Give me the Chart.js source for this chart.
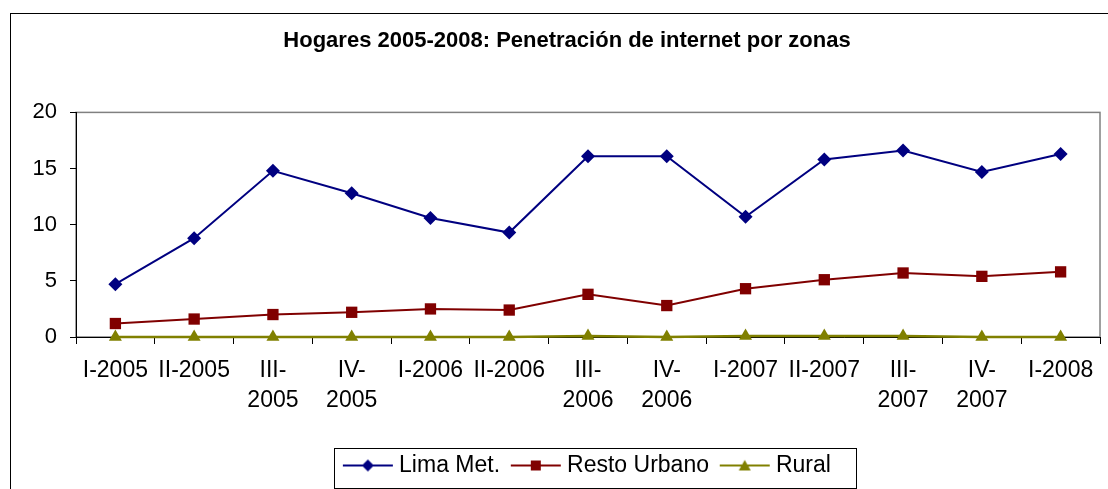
<!DOCTYPE html>
<html>
<head>
<meta charset="utf-8">
<script src="https://cdn.jsdelivr.net/npm/chart.js@4.4.1/dist/chart.umd.min.js"></script>
<style>
  html, body { margin: 0; padding: 0; background: #ffffff; }
  #wrap { width: 1108px; height: 489px; position: relative; }
</style>
</head>
<body>
<div id="wrap"><canvas id="c"></canvas></div>
<script>
const titleText = 'Hogares 2005-2008: Penetración de internet por zonas';
const categories = ['I-2005', 'II-2005', ['III-', '2005'], ['IV-', '2005'], 'I-2006', 'II-2006',
  ['III-', '2006'], ['IV-', '2006'], 'I-2007', 'II-2007', ['III-', '2007'], ['IV-', '2007'], 'I-2008'];
const seriesNames = ['Lima Met.', 'Resto Urbano', 'Rural'];
const limaMet = [4.7, 8.8, 14.8, 12.8, 10.6, 9.3, 16.1, 16.1, 10.7, 15.8, 16.6, 14.7, 16.3];
const restoUrbano = [1.2, 1.6, 2.0, 2.2, 2.5, 2.4, 3.8, 2.8, 4.3, 5.1, 5.7, 5.4, 5.8];
const rural = [0.0, 0.0, 0.0, 0.0, 0.0, 0.0, 0.1, 0.0, 0.1, 0.1, 0.1, 0.0, 0.0];
const yTicks = [0, 5, 10, 15, 20];

const FONT = '"Liberation Sans", Arial, Helvetica, sans-serif';
const colors = ['#000080', '#800000', '#808000'];
const styles = ['rectRot', 'rect', 'triangle'];

function legendIcon(color, style) {
  const cv = document.createElement('canvas');
  cv.width = 58; cv.height = 14;
  const g = cv.getContext('2d');
  g.strokeStyle = color; g.lineWidth = 2;
  g.beginPath(); g.moveTo(7, 7); g.lineTo(57, 7); g.stroke();
  g.fillStyle = color;
  g.beginPath();
  const c = 32;
  if (style === 'rectRot') { g.moveTo(c, 1); g.lineTo(c + 6, 7); g.lineTo(c, 13); g.lineTo(c - 6, 7); }
  else if (style === 'rect') { g.rect(c - 5, 2, 10, 10); }
  else { g.moveTo(c, 1.5); g.lineTo(c + 6, 12); g.lineTo(c - 6, 12); }
  g.closePath(); g.fill();
  return cv;
}
const icons = colors.map((c, i) => legendIcon(c, styles[i]));

const framePlugin = {
  id: 'frame',
  afterLayout(chart) {
    if (chart.titleBlock) { chart.titleBlock.left = 26; chart.titleBlock.right = 1108; }
    if (chart.legend) { chart.legend.left += 34; chart.legend.right += 34; }
  },
  beforeDraw(chart) {
    const ctx = chart.ctx, a = chart.chartArea;
    ctx.save();
    ctx.strokeStyle = '#000000'; ctx.lineWidth = 1;
    ctx.strokeRect(10.5, 13.5, 1300, 600);
    ctx.strokeStyle = '#808080'; ctx.lineWidth = 1.5;
    ctx.strokeRect(a.left, a.top, a.right - a.left, a.bottom - a.top);
    ctx.restore();
  },
  afterDraw(chart) {
    const lg = chart.legend;
    if (!lg || !lg.legendHitBoxes || !lg.legendHitBoxes.length) return;
    const hb = lg.legendHitBoxes;
    const first = hb[0], last = hb[hb.length - 1];
    const ctx = chart.ctx;
    const cy = first.top + first.height / 2;
    ctx.save();
    ctx.strokeStyle = '#000000'; ctx.lineWidth = 1;
    const x0 = Math.round(first.left - 8) + 0.5;
    const x1 = Math.round(last.left + last.width + 25) + 0.5;
    const y0 = Math.round(cy - 18) + 0.5;
    const y1 = Math.round(cy + 22) + 0.5;
    ctx.strokeRect(x0, y0, x1 - x0, y1 - y0);
    ctx.restore();
  }
};

const data = {
  labels: categories,
  datasets: [limaMet, restoUrbano, rural].map((vals, i) => ({
    label: seriesNames[i],
    data: vals,
    borderColor: colors[i],
    backgroundColor: colors[i],
    borderWidth: i === 2 ? 2.5 : 2,
    pointStyle: styles[i],
    pointRadius: [7, 8, 7.5][i],
    pointBorderWidth: 0,
    pointBackgroundColor: colors[i],
    tension: 0,
    clip: false
  }))
};

new Chart(document.getElementById('c'), {
  type: 'line',
  data: data,
  plugins: [framePlugin],
  options: {
    responsive: true,
    maintainAspectRatio: false,
    animation: false,
    layout: { padding: { left: 0, right: 3, top: 0, bottom: 2 } },
    plugins: {
      tooltip: { enabled: false },
      title: {
        display: true,
        text: titleText,
        color: '#000000',
        font: { family: FONT, size: 22, weight: 'bold', lineHeight: 1.2 },
        padding: { top: 28, bottom: 58 }
      },
      legend: {
        display: true,
        position: 'bottom',
        labels: {
          color: '#000000',
          font: { family: FONT, size: 23 },
          usePointStyle: true,
          pointStyleWidth: 45.5,
          padding: 10,
          generateLabels(chart) {
            return chart.data.datasets.map((ds, i) => ({
              text: ds.label,
              pointStyle: icons[i],
              fillStyle: colors[i],
              strokeStyle: colors[i],
              lineWidth: 0,
              hidden: false,
              datasetIndex: i
            }));
          }
        }
      }
    },
    scales: {
      x: {
        type: 'category',
        offset: true,
        grid: { display: true, drawOnChartArea: false, drawTicks: true, tickLength: 7, offset: true, color: '#000000', lineWidth: 1 },
        border: { display: true, color: '#000000', width: 1 },
        ticks: {
          color: '#000000',
          font: { family: FONT, size: 23, lineHeight: 1.3 },
          maxRotation: 0, minRotation: 0, autoSkip: false,
          padding: 12
        },
        afterFit(scale) { scale.height = 107; }
      },
      y: {
        min: 0, max: 20,
        afterBuildTicks(scale) { scale.ticks = yTicks.map(v => ({ value: v })); },
        grid: { display: true, drawOnChartArea: false, drawTicks: true, tickLength: 6, color: '#000000', lineWidth: 1 },
        border: { display: true, color: '#000000', width: 1 },
        ticks: { color: '#000000', font: { family: FONT, size: 22 }, padding: 13 },
        afterFit(scale) { scale.width = 76; }
      }
    }
  }
});
</script>
</body>
</html>
